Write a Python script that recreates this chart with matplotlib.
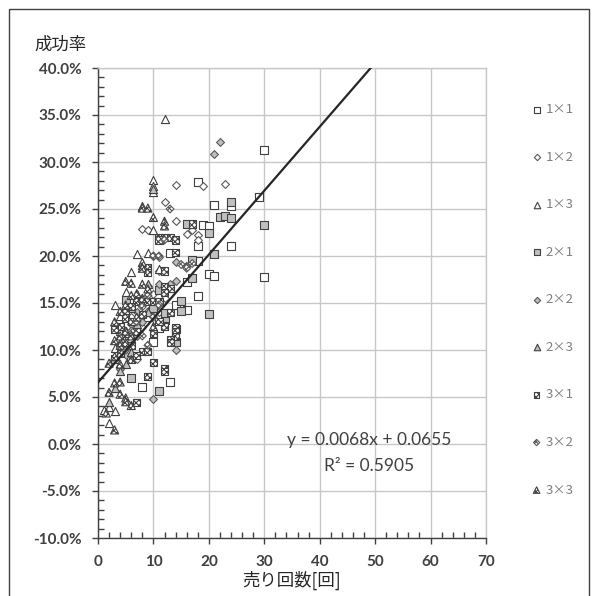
import matplotlib
matplotlib.use("Agg")
import matplotlib.pyplot as plt
import matplotlib.patches as mpatches
from matplotlib.ticker import MultipleLocator, PercentFormatter

plt.rcParams['font.family'] = ['Lato', 'Noto Sans CJK JP', 'DejaVu Sans']
plt.rcParams['hatch.linewidth'] = 0.8
plt.rcParams['axes.unicode_minus'] = False

# ---------------- data (x: 売り回数, y: 成功率 in %) ----------------
x_1x1 = [30, 18, 29, 21, 24, 19, 20, 18, 24, 18, 20, 21, 30, 16, 18, 10, 13, 8, 14, 13, 11, 6, 9, 16]
y_1x1 = [31.3, 27.9, 26.3, 25.4, 25.3, 23.3, 23.2, 21.1, 21.1, 19.5, 18.1, 17.9, 17.8, 17.2, 15.7, 10.8, 6.6, 6.1, 14.8, 20.3, 12.3, 9.0, 13.5, 14.3]

x_1x2 = [19, 23, 14, 12, 14, 17, 18, 18, 8, 9, 10, 11, 11, 16, 7, 8, 6, 9, 10, 5, 7, 11, 12, 6]
y_1x2 = [27.5, 27.7, 27.6, 25.7, 23.7, 22.8, 22.2, 21.7, 22.9, 22.8, 20.0, 19.9, 18.4, 22.3, 15.5, 12.5, 11.0, 14.2, 16.0, 10.5, 9.0, 14.0, 15.5, 13.5]

x_1x3 = [12, 10, 10, 10, 10, 7, 6, 3, 4, 3, 1, 2, 3, 2, 11, 9, 4, 5]
y_1x3 = [34.6, 28.1, 27.5, 26.8, 22.8, 20.2, 18.3, 14.8, 13.6, 10.2, 3.6, 3.9, 3.5, 2.2, 18.6, 20.3, 12.0, 16.2]

x_2x1 = [30, 24, 22, 23, 24, 16, 20, 21, 17, 17, 15, 15, 20, 12, 12, 11, 5, 3, 11, 14, 14, 6, 10]
y_2x1 = [23.3, 25.7, 24.1, 24.3, 24.0, 23.4, 22.4, 20.2, 19.6, 17.7, 15.2, 14.1, 13.8, 13.2, 13.9, 16.4, 15.3, 9.0, 5.6, 12.2, 10.9, 7.0, 14.5]

x_2x2 = [22, 21, 14, 13, 14, 14, 10, 6, 7, 5, 8, 9, 7, 11, 6, 4]
y_2x2 = [32.1, 30.8, 19.4, 17.0, 17.3, 10.0, 4.8, 10.5, 11.5, 9.5, 13.0, 16.8, 14.0, 17.0, 12.8, 8.0]

x_2x3 = [10, 8, 4, 5, 6, 3, 7, 9, 4, 8, 2, 5, 6, 7, 9]
y_2x3 = [27.1, 25.3, 10.8, 12.0, 14.5, 6.0, 16.0, 17.0, 7.8, 19.0, 4.5, 8.5, 9.8, 12.8, 14.0]

x_3x1 = [17, 11, 12, 13, 11, 14, 14, 12, 9, 9, 12, 13, 12, 7, 8, 9, 10, 11, 5, 5, 12, 12, 14, 14, 14, 13, 13,
         4, 5, 6, 8, 9, 7, 10, 12, 12, 7, 6, 3, 13, 6, 7, 8, 10, 11, 4, 9]
y_3x1 = [23.4, 22.0, 22.0, 22.0, 21.7, 21.7, 20.4, 18.4, 18.8, 18.2, 16.8, 16.5, 16.1, 15.2, 15.2, 15.2, 15.2, 15.2,
         14.0, 13.4, 12.6, 12.5, 12.4, 12.0, 11.4, 11.1, 10.8, 12.5, 11.8, 13.0, 9.8, 9.8, 9.4, 8.7, 8.0, 7.7, 4.4,
         10.5, 12.2, 14.0, 14.6, 12.0, 13.8, 11.8, 13.0, 9.6, 7.2]

x_3x2 = [13, 15, 16, 16, 17, 10, 11, 12, 9, 8, 7, 10, 6, 11, 5, 8, 9]
y_3x2 = [25.0, 19.1, 18.9, 18.7, 19.2, 20.0, 20.0, 21.7, 15.8, 14.6, 13.0, 13.5, 12.0, 14.8, 10.0, 11.5, 10.5]

x_3x3 = [12, 12, 10, 8, 9, 10, 8, 8, 5, 6, 8, 7, 8, 4, 5, 4, 4, 5, 3, 4, 4, 5, 5, 6, 1.5, 3, 9, 4, 6, 3, 2,
         3, 5, 6, 7, 3, 6, 2]
y_3x3 = [23.7, 23.2, 24.1, 25.1, 25.1, 12.5, 19.3, 18.7, 17.3, 17.1, 17.0, 16.0, 15.5, 14.1, 12.0, 11.5, 10.5,
         10.8, 6.5, 6.6, 5.3, 4.9, 4.5, 4.1, 3.3, 1.5, 16.5, 8.5, 9.0, 9.3, 5.5,
         13.0, 14.8, 11.5, 13.5, 11.0, 15.8, 8.6]

series_labels = ['1×1', '1×2', '1×3', '2×1', '2×2', '2×3', '3×1', '3×2', '3×3']
series_x = [x_1x1, x_1x2, x_1x3, x_2x1, x_2x2, x_2x3, x_3x1, x_3x2, x_3x3]
series_y = [y_1x1, y_1x2, y_1x3, y_2x1, y_2x2, y_2x3, y_3x1, y_3x2, y_3x3]

trend_slope = 0.0068   # per count (fraction)
trend_intercept = 0.0655
r_squared = 0.5905

# ---------------- styling ----------------
markers = ['s', 'D', '^'] * 3
sizes = {'s': 26, 'D': 16, '^': 34}
faces = ['white'] * 3 + ['#bfbfbf'] * 3 + ['white'] * 3
edges = ['#404040', '#595959', '#404040'] * 3
hatches = [None] * 6 + ['xxxxxx'] * 3

W, H = 596, 596
fig = plt.figure(figsize=(W / 100, H / 100), dpi=100)
ax = fig.add_axes([98 / W, 1 - 538 / H, (486 - 98) / W, (538 - 68) / H])

for xs, ys, lab, m, fc, ec, ht in zip(series_x, series_y, series_labels, markers, faces, edges, hatches):
    kw = {}
    if ht:
        kw['hatch'] = ht
    ax.scatter(xs, ys, marker=m, s=sizes[m], facecolor=fc, edgecolor=ec,
               linewidths=0.8, label=lab, zorder=3, **kw)

# trendline
tx = [0, 70]
ty = [(trend_intercept + trend_slope * v) * 100 for v in tx]
ax.plot(tx, ty, color='#262626', lw=1.6, zorder=4)

ax.set_xlim(0, 70)
ax.set_ylim(-10, 40)
ax.xaxis.set_major_locator(MultipleLocator(10))
ax.xaxis.set_minor_locator(MultipleLocator(2))
ax.yaxis.set_major_locator(MultipleLocator(5))
ax.yaxis.set_minor_locator(MultipleLocator(1))
ax.yaxis.set_major_formatter(PercentFormatter(xmax=100, decimals=1))

ax.grid(True, which='major', color='#c8c8c8', lw=1.0, zorder=0)
ax.set_axisbelow(True)
for s in ['top', 'right']:
    ax.spines[s].set_color('#c8c8c8')
    ax.spines[s].set_linewidth(1.0)
for s in ['left', 'bottom']:
    ax.spines[s].set_color('#404040')
    ax.spines[s].set_linewidth(1.0)

ax.tick_params(which='major', direction='out', length=4, width=1, color='#404040',
               labelsize=11, labelcolor='#404040', pad=8)
ax.tick_params(which='minor', direction='in', length=4.5, width=1, color='#404040')
for lbl in ax.get_xticklabels() + ax.get_yticklabels():
    lbl.set_fontweight('bold')

# axis titles
fig.text(60 / W, 1 - 45 / H, '成功率', family=['Noto Sans CJK JP', 'DejaVu Sans'],
         fontsize=12.5, color='#262626', ha='center', va='center')
fig.text(292 / W, 1 - 580 / H, '売り回数[回]', family=['Noto Sans CJK JP', 'DejaVu Sans'],
         fontsize=12.5, color='#262626', ha='center', va='center')

# trendline equation
ax.text((369 - 98) / 388, (538 - 440) / 470,
        f'y = {trend_slope:.4f}x + {trend_intercept:.4f}',
        transform=ax.transAxes, ha='center', va='center', fontsize=12.5, color='#404040', zorder=5)
ax.text((369 - 98) / 388, (538 - 466) / 470, f'R² = {r_squared:.4f}',
        transform=ax.transAxes, ha='center', va='center', fontsize=12.5, color='#404040', zorder=5)

# legend
leg = ax.legend(loc='upper left', bbox_to_anchor=(532 / W, 1 - 103 / H), bbox_transform=fig.transFigure,
                frameon=False, labelspacing=2.62, handlelength=0.7, handletextpad=0.35,
                borderpad=0, borderaxespad=0, markerscale=0.8,
                prop={'family': ['Noto Sans CJK JP', 'DejaVu Sans'], 'size': 9.5})
for t in leg.get_texts():
    t.set_color('#7f7f7f')

# outer border
fig.patches.append(mpatches.Rectangle((9 / W, -0.05), (589 - 9) / W, (596 - 9) / H + 0.05,
                                      transform=fig.transFigure, fill=False,
                                      edgecolor='#404040', lw=1.0))

fig.savefig('out.png', dpi=100)
